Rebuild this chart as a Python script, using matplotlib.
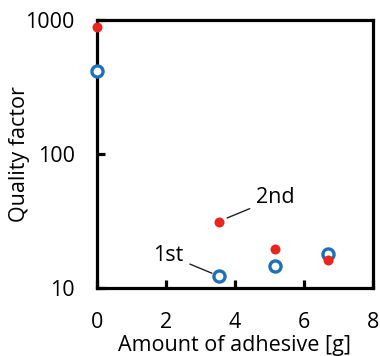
import matplotlib
matplotlib.use("Agg")
import matplotlib.pyplot as plt
from matplotlib.ticker import FixedLocator, NullLocator, FixedFormatter

plt.rcParams['font.family'] = ['Open Sans', 'DejaVu Sans']

# data
adhesive = [0, 3.55, 5.15, 6.7]
q_first = [415, 12.2, 14.7, 17.9]
q_second = [885, 31, 19.5, 16.3]

xticks = [0, 2, 4, 6, 8]
yticks = [10, 100, 1000]
yticklabels = ["10", "100", "1000"]

fig = plt.figure(figsize=(3.8, 3.56), dpi=100)
ax = fig.add_axes([97 / 380, 1 - 288 / 356, 276 / 380, 268 / 356])

ax.plot(adhesive, q_first, 'o', ms=8, mfc='white', mec='#1f6fba', mew=2.4,
        linestyle='none', clip_on=False, zorder=3)
ax.plot(adhesive, q_second, 'o', ms=7.2, mfc='#e8251f', mec='#e8251f', mew=0,
        linestyle='none', clip_on=False, zorder=4)

ax.set_yscale('log')
ax.set_xlim(0, 8)
ax.set_ylim(10, 1000)
ax.xaxis.set_major_locator(FixedLocator(xticks))
ax.yaxis.set_major_locator(FixedLocator(yticks))
ax.yaxis.set_major_formatter(FixedFormatter(yticklabels))
ax.yaxis.set_minor_locator(NullLocator())

for s in ax.spines.values():
    s.set_linewidth(2.3)
ax.tick_params(direction='in', length=6, width=2.3, labelsize=15.5)
ax.tick_params(axis='x', pad=17)
ax.tick_params(axis='y', pad=16)

ax.set_xlabel("Amount of adhesive [g]", fontsize=15.5, labelpad=2)
ax.set_ylabel("Quality factor", fontsize=15.5, labelpad=-3)

ax.annotate("2nd", xy=(3.77, 33.3), xytext=(4.62, 47),
            fontsize=15.5, va='center', ha='left',
            arrowprops=dict(arrowstyle='-', color='#222222', lw=1,
                            shrinkA=3, shrinkB=0))
ax.annotate("1st", xy=(3.33, 12.9), xytext=(2.5, 17.6),
            fontsize=15.5, va='center', ha='right',
            arrowprops=dict(arrowstyle='-', color='#222222', lw=1,
                            shrinkA=3, shrinkB=0))

fig.savefig("out.png", dpi=100)
